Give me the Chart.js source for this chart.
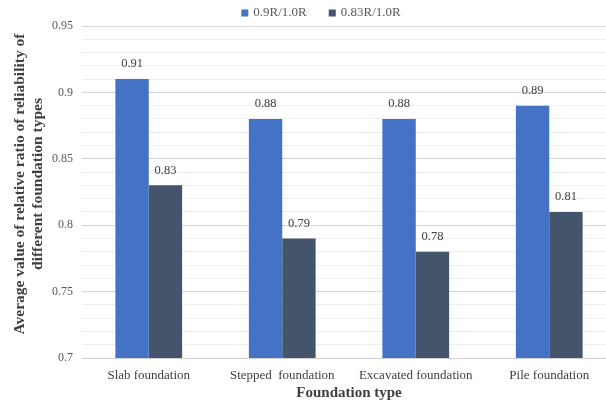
<!DOCTYPE html>
<html>
<head>
<meta charset="utf-8">
<script src="https://cdn.jsdelivr.net/npm/chart.js@4"></script>
<style>
  html, body { margin: 0; padding: 0; background: #fff; overflow: hidden; }
  #wrap { width: 618px; height: 407px; position: relative; }
</style>
</head>
<body>
<div id="wrap"><canvas id="chart"></canvas></div>
<script>
// Foundation types on the x axis
const categories = ['Slab foundation', 'Stepped  foundation', 'Excavated foundation', 'Pile foundation'];
// Average relative reliability ratios
const ratio09 = [0.91, 0.88, 0.88, 0.89];   // 0.9R/1.0R
const ratio083 = [0.83, 0.79, 0.78, 0.81];  // 0.83R/1.0R
const seriesNames = ['0.9R/1.0R', '0.83R/1.0R'];
// Labelled y ticks (minor grid every 0.01 between them)
const yTickLabels = [0.7, 0.75, 0.8, 0.85, 0.9, 0.95];
const yTitleLines = ['Average value of relative ratio of reliability of', 'different foundation types'];

const serif = '"Liberation Serif", "Times New Roman", serif';
const colors = ['#4472C4', '#44546A'];

const isMajor = v => yTickLabels.some(t => Math.abs(t - v) < 1e-6);

// Value labels above each bar
const valueLabels = {
  id: 'valueLabels',
  afterDatasetsDraw(chart) {
    const ctx = chart.ctx;
    ctx.save();
    ctx.font = '12.5px ' + serif;
    ctx.fillStyle = '#404040';
    ctx.textAlign = 'center';
    ctx.textBaseline = 'middle';
    chart.data.datasets.forEach((ds, i) => {
      chart.getDatasetMeta(i).data.forEach((bar, j) => {
        ctx.fillText(String(ds.data[j]), bar.x, bar.y - 15);
      });
    });
    ctx.restore();
  }
};

// Legend row and the two-line rotated y-axis title
const decorations = {
  id: 'decorations',
  afterDraw(chart) {
    const ctx = chart.ctx;
    ctx.save();
    ctx.font = '13px ' + serif;
    ctx.textBaseline = 'middle';
    const box = 7, gap = 5, itemGap = 22;
    const items = chart.data.datasets.map(ds => ({ text: ds.label, color: ds.backgroundColor, w: ctx.measureText(ds.label).width }));
    const total = items.reduce((s, it) => s + box + gap + it.w, 0) + itemGap * (items.length - 1);
    let x = 321 - total / 2;
    const y = 13;
    items.forEach(it => {
      ctx.fillStyle = it.color;
      ctx.fillRect(x, y - box / 2, box, box);
      x += box + gap;
      ctx.fillStyle = '#595959';
      ctx.fillText(it.text, x, y);
      x += it.w + itemGap;
    });

    ctx.font = 'bold 15.5px ' + serif;
    ctx.fillStyle = '#404040';
    ctx.textAlign = 'center';
    ctx.translate(20, 184);
    ctx.rotate(-Math.PI / 2);
    yTitleLines.forEach((line, k) => ctx.fillText(line, 0, k * 18));
    ctx.restore();
  }
};

new Chart(document.getElementById('chart'), {
  type: 'bar',
  data: {
    labels: categories,
    datasets: [
      { label: seriesNames[0], data: ratio09, backgroundColor: colors[0] },
      { label: seriesNames[1], data: ratio083, backgroundColor: colors[1] }
    ]
  },
  options: {
    responsive: true,
    maintainAspectRatio: false,
    animation: false,
    devicePixelRatio: 1,
    datasets: { bar: { categoryPercentage: 0.5, barPercentage: 1.0 } },
    layout: { padding: { top: 26, right: 2, left: 0, bottom: 0 } },
    plugins: {
      legend: { display: false },
      tooltip: { enabled: false }
    },
    scales: {
      x: {
        grid: { display: false, drawTicks: false },
        border: { color: '#d0d0d0', width: 1 },
        ticks: { color: '#404040', font: { family: serif, size: 13 }, padding: 10, maxRotation: 0, autoSkip: false },
        title: {
          display: true, text: 'Foundation type', color: '#404040',
          font: { family: serif, size: 15, weight: 'bold' }, padding: { top: 0, bottom: 5 }
        },
        afterFit(scale) { scale.height = 49; }
      },
      y: {
        min: 0.7, max: 0.95,
        border: { display: false },
        grid: {
          drawTicks: false,
          color: c => isMajor(c.tick.value) ? '#d6d6d6' : '#eeeeee',
          lineWidth: 1
        },
        ticks: {
          stepSize: 0.01, autoSkip: false, padding: 9,
          color: '#595959', font: { family: serif, size: 12 },
          callback: v => isMajor(v) ? String(Math.round(v * 100) / 100) : ''
        },
        afterFit(scale) { scale.width = 82; }
      }
    }
  },
  plugins: [valueLabels, decorations]
});
</script>
</body>
</html>
